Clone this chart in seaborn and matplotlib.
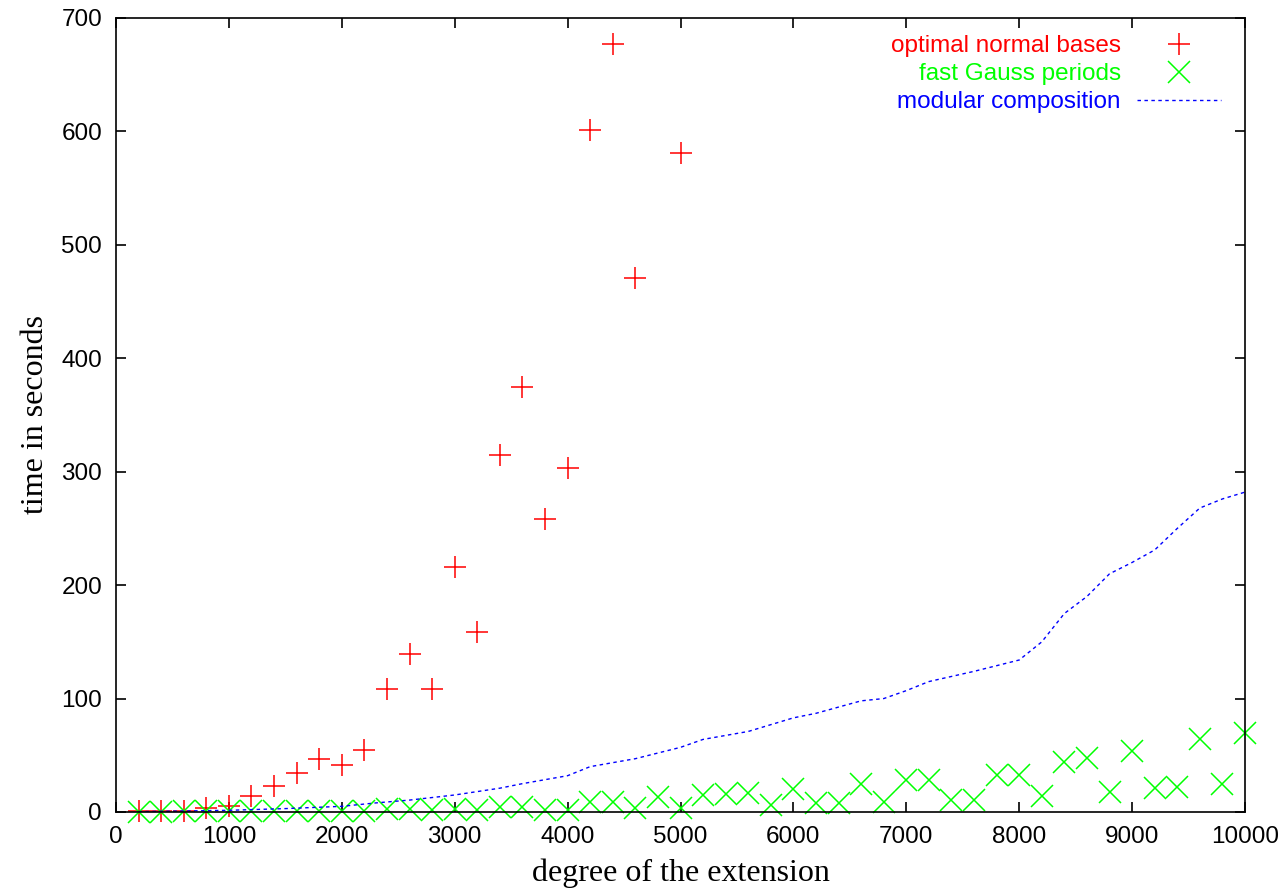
import numpy as np
import pandas as pd
import matplotlib
matplotlib.use('Agg')
import matplotlib.pyplot as plt
import seaborn as sns

# --- data ---------------------------------------------------------------
onb_deg = [200, 400, 600, 800, 1000, 1200, 1400, 1600, 1800, 2000, 2200, 2400,
           2600, 2800, 3000, 3200, 3400, 3600, 3800, 4000, 4200, 4400, 4600, 5000]
onb_time = [0.5, 0.5, 1, 3.5, 5.5, 14, 23, 34, 47, 41, 55, 108,
            139, 108, 216, 159, 315, 375, 258, 303, 601, 677, 471, 581]

gauss_deg = list(range(200, 10001, 200))
gauss_time = [0, 0, 0.5, 0.5, 0.5, 0.5, 0.5, 0.5, 1, 0.5,
              0.5, 2.5, 2.5, 1.5, 2.5, 1.5, 4.5, 4.5, 1.5, 1.5,
              8.5, 9, 3.5, 13, 3.5, 15, 16, 17, 6.5, 20,
              8, 8, 25, 9, 28, 28, 11, 11, 33, 33,
              14, 44, 48, 18, 54, 21, 22, 64, 25, 70]

modcomp_deg = [200, 1000, 1500, 2000, 2300, 2600, 3000, 3400, 3600, 4000, 4200,
               4600, 5000, 5200, 5600, 6000, 6200, 6600, 6800, 7000, 7200, 7600,
               8000, 8200, 8400, 8600, 8800, 9000, 9200, 9400, 9600, 9800, 10000]
modcomp_time = [0.3, 1.5, 3, 5, 8, 10.5, 15, 21, 25, 32, 40,
                47, 57, 64, 71, 83, 87, 98, 100, 107, 115, 124,
                134, 150, 175, 190, 210, 220, 231, 250, 268, 276, 282]

RED, GREEN, BLUE = '#ff0000', '#00ff00', '#0000ff'

sns.set_style('ticks')
plt.rcParams.update({'font.family': ['Liberation Sans', 'DejaVu Sans'],
                     'text.color': 'black', 'axes.labelcolor': 'black',
                     'xtick.color': 'black', 'ytick.color': 'black',
                     'xtick.direction': 'in', 'ytick.direction': 'in',
                     'xtick.top': True, 'ytick.right': True,
                     'xtick.major.size': 7, 'ytick.major.size': 7,
                     'axes.linewidth': 1.2, 'axes.edgecolor': 'black'})

fig = plt.figure(figsize=(12.88, 8.93), dpi=100)
ax = fig.add_axes([116 / 1288, 1 - 812 / 893, (1245 - 116) / 1288, (812 - 18) / 893])

onb = pd.DataFrame({'deg': onb_deg, 'time': onb_time})
gauss = pd.DataFrame({'deg': gauss_deg, 'time': gauss_time})
mc = pd.DataFrame({'deg': modcomp_deg, 'time': modcomp_time})

# gnuplot-style points: drawn over the frame, not clipped
sns.lineplot(data=onb, x='deg', y='time', ax=ax, color=RED, linestyle='',
             marker='+', markersize=16, markeredgewidth=1.1, markeredgecolor=RED,
             clip_on=False, label='optimal normal bases')
sns.lineplot(data=gauss, x='deg', y='time', ax=ax, color=GREEN, linestyle='',
             marker='x', markersize=16, markeredgewidth=1.1, markeredgecolor=GREEN,
             clip_on=False, label='fast Gauss periods')
sns.lineplot(data=mc, x='deg', y='time', ax=ax, color=BLUE, lw=1,
             linestyle=(0, (2.5, 2.5)), label='modular composition')

ax.set_xlim(0, 10000)
ax.set_ylim(0, 700)
ax.set_xticks(np.arange(0, 10001, 1000))
ax.set_yticks(np.arange(0, 701, 100))
ax.tick_params(labelsize=17.5, pad=10, width=1.2)
ax.set_xlabel('degree of the extension', family='Liberation Serif', fontsize=23, labelpad=8)
ax.set_ylabel('time in seconds', family='Liberation Serif', fontsize=23, labelpad=8)

leg = ax.legend(loc='upper right', bbox_to_anchor=(0.9935, 1.0), frameon=False,
                markerfirst=False, fontsize=17.5, handlelength=3.45, handletextpad=0.65,
                labelspacing=0.25, borderaxespad=0.3, labelcolor='linecolor')

fig.savefig('out.png', dpi=100)
